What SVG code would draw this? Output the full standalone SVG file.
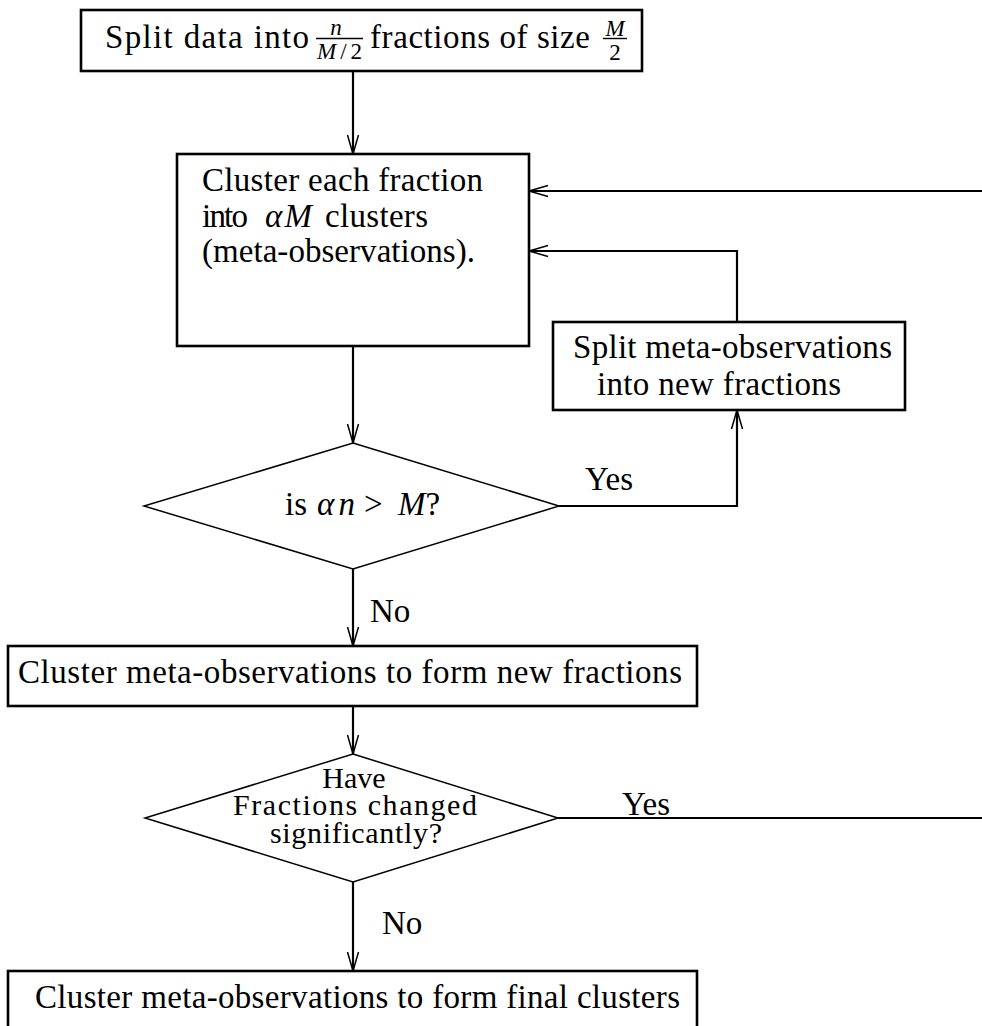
<svg xmlns="http://www.w3.org/2000/svg" width="982" height="1026" viewBox="0 0 982 1026">
<defs>
<marker id="ah" markerUnits="userSpaceOnUse" markerWidth="24" markerHeight="14" refX="20" refY="7" orient="auto" viewBox="0 0 24 14">
<path d="M1,1.5 L20,7 L1,12.5" fill="none" stroke="#000" stroke-width="1.5"/>
</marker>
<style>
text{font-family:"Liberation Serif","Times New Roman",serif;font-size:33px;fill:#000}
.it{font-style:italic}
.sm{font-size:23px}
.nar{font-size:30px}
.box{fill:#fff;stroke:#000;stroke-width:2.6}
.dia{fill:#fff;stroke:#000;stroke-width:1.5}
.con{fill:none;stroke:#000;stroke-width:2.2}
.thin{stroke:#000;stroke-width:1.4}
</style>
</defs>
<rect width="982" height="1026" fill="#fff"/>
<g id="connectors">
<line class="con" x1="353" y1="71" x2="353" y2="154" marker-end="url(#ah)"/>
<line class="con" x1="982" y1="191" x2="529" y2="191" marker-end="url(#ah)"/>
<polyline class="con" points="737,322 737,251 529,251" marker-end="url(#ah)"/>
<line class="con" x1="353" y1="346" x2="353" y2="443" marker-end="url(#ah)"/>
<polyline class="con" points="559,506 737,506 737,410" marker-end="url(#ah)"/>
<line class="con" x1="353" y1="569" x2="353" y2="646" marker-end="url(#ah)"/>
<line class="con" x1="353" y1="706" x2="353" y2="754" marker-end="url(#ah)"/>
<line class="con" x1="558" y1="818" x2="982" y2="818"/>
<line class="con" x1="353" y1="882" x2="353" y2="971" marker-end="url(#ah)"/>
<text x="585" y="490">Yes</text>
<text x="370" y="622">No</text>
<text x="622" y="815">Yes</text>
<text x="382" y="934">No</text>
</g>
<g id="split-data">
<rect class="box" x="81" y="10" width="561" height="61"/>
<text x="105" y="48" textLength="204" lengthAdjust="spacing">Split data into</text>
<text class="it sm" x="336" y="35" text-anchor="middle">n</text>
<line class="thin" x1="316" y1="38.5" x2="363" y2="38.5"/>
<text class="sm" x="317" y="59" textLength="45" lengthAdjust="spacing"><tspan class="it">M</tspan>/2</text>
<text x="370" y="48" textLength="220" lengthAdjust="spacing">fractions of size</text>
<text class="it sm" x="615" y="35.5" text-anchor="middle">M</text>
<line class="thin" x1="603" y1="38.5" x2="627" y2="38.5"/>
<text class="sm" x="615" y="60" text-anchor="middle">2</text>
</g>
<g id="cluster-fraction">
<rect class="box" x="177" y="154" width="352" height="192"/>
<text x="202" y="191" textLength="281" lengthAdjust="spacing">Cluster each fraction</text>
<text x="202" y="227" textLength="46" lengthAdjust="spacing">into</text>
<text class="it" x="265" y="227" textLength="47" lengthAdjust="spacing">αM</text>
<text x="325" y="227" textLength="103" lengthAdjust="spacing">clusters</text>
<text x="202" y="262" textLength="273" lengthAdjust="spacing">(meta-observations).</text>
</g>
<g id="split-meta">
<rect class="box" x="553" y="322" width="352" height="88"/>
<text x="573" y="358" textLength="319" lengthAdjust="spacing">Split meta-observations</text>
<text x="597" y="395" textLength="244" lengthAdjust="spacing">into new fractions</text>
</g>
<g id="decision-1">
<polygon class="dia" points="353,443 559,506 353,569 144,506"/>
<text x="285" y="515">is</text>
<text class="it" x="317" y="515" textLength="38" lengthAdjust="spacing">αn</text>
<text x="364" y="515">&gt;</text>
<text x="398" y="515"><tspan class="it">M</tspan>?</text>
</g>
<g id="cluster-new">
<rect class="box" x="8" y="646" width="689" height="60"/>
<text x="18" y="683" textLength="664" lengthAdjust="spacing">Cluster meta-observations to form new fractions</text>
</g>
<g id="decision-2">
<polygon class="dia" points="353,754 558,818 353,882 145,818"/>
<text class="nar" x="354" y="788" text-anchor="middle">Have</text>
<text class="nar" x="233" y="815" textLength="244" lengthAdjust="spacing">Fractions changed</text>
<text class="nar" x="270" y="843" textLength="172" lengthAdjust="spacing">significantly?</text>
</g>
<g id="cluster-final">
<rect class="box" x="8" y="971" width="689" height="70"/>
<text x="35" y="1008" textLength="645" lengthAdjust="spacing">Cluster meta-observations to form final clusters</text>
</g>
</svg>
